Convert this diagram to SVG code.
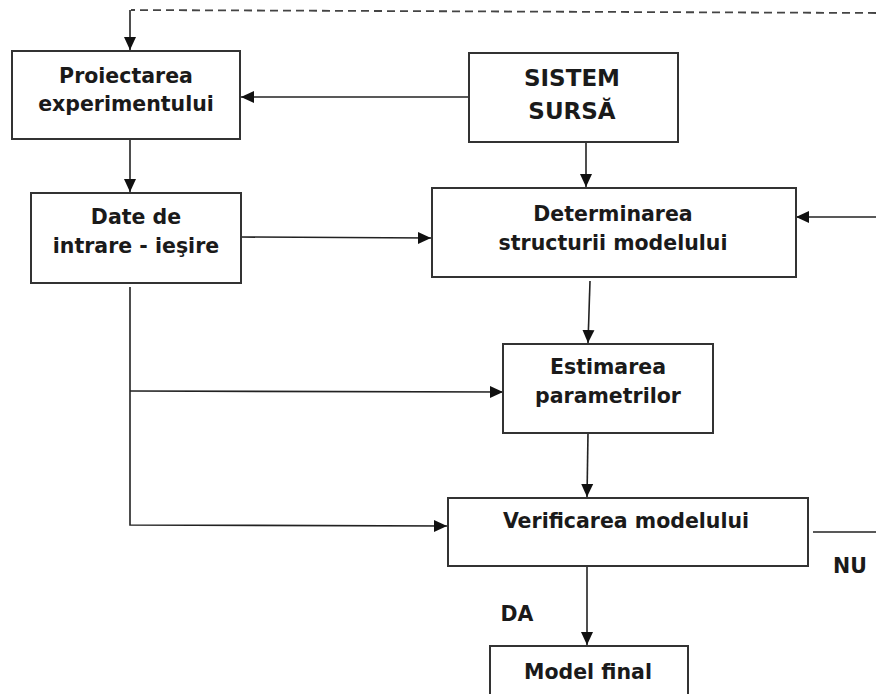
<svg xmlns="http://www.w3.org/2000/svg" width="876" height="694" viewBox="0 0 876 694">
<defs>
<marker id="arr" markerUnits="userSpaceOnUse" markerWidth="13" markerHeight="13" refX="13" refY="6.5" orient="auto">
<path d="M0,0.5 L13,6.5 L0,12.5 z" fill="#111"/>
</marker>
<style>
.box{fill:#fff;stroke:#333;stroke-width:2}
.t{font-family:"DejaVu Sans","Verdana",sans-serif;font-weight:bold;font-size:20.5px;fill:#1a1a1a;text-anchor:middle}
.big{font-size:23px}
.c{fill:none;stroke:#222;stroke-width:1.6}
.dash{fill:none;stroke:#444;stroke-width:1.8;stroke-dasharray:8 5}
</style>
</defs>
<rect width="876" height="694" fill="#fff"/>
<g id="connectors">
<path class="dash" d="M876,13 L131,10"/>
<path class="c" d="M130,10 L130,50" marker-end="url(#arr)"/>
<path class="c" d="M469,97 L241,97" marker-end="url(#arr)"/>
<path class="c" d="M130,139 L130,192" marker-end="url(#arr)"/>
<path class="c" d="M586,142 L586,187" marker-end="url(#arr)"/>
<path class="c" d="M241,237 L431,238" marker-end="url(#arr)"/>
<path class="c" d="M876,217 L796,217" marker-end="url(#arr)"/>
<path class="c" d="M590,281 L588,343" marker-end="url(#arr)"/>
<path class="c" d="M130,287 L130,525 L447,526" marker-end="url(#arr)"/>
<path class="c" d="M130,391 L503,392" marker-end="url(#arr)"/>
<path class="c" d="M588,433 L587,497" marker-end="url(#arr)"/>
<path class="c" d="M587,566 L587,645" marker-end="url(#arr)"/>
<path class="c" d="M813,532 L876,532"/>
</g>
<g id="proiectarea">
<rect class="box" x="12" y="51" width="228" height="88"/>
<text class="t" x="126" y="83">Proiectarea</text>
<text class="t" x="126" y="111">experimentului</text>
</g>
<g id="sistem">
<rect class="box" x="469" y="53" width="209" height="89"/>
<text class="t big" x="572" y="86">SISTEM</text>
<text class="t big" x="572" y="119">SURSĂ</text>
</g>
<g id="date">
<rect class="box" x="31" y="193" width="210" height="90"/>
<text class="t" x="136" y="224">Date de</text>
<text class="t" x="136" y="253">intrare - ieşire</text>
</g>
<g id="determinarea">
<rect class="box" x="432" y="188" width="364" height="89"/>
<text class="t" x="613" y="221">Determinarea</text>
<text class="t" x="613" y="250">structurii modelului</text>
</g>
<g id="estimarea">
<rect class="box" x="503" y="344" width="210" height="89"/>
<text class="t" x="608" y="374">Estimarea</text>
<text class="t" x="608" y="403">parametrilor</text>
</g>
<g id="verificarea">
<rect class="box" x="448" y="498" width="360" height="68"/>
<text class="t" x="626" y="528">Verificarea modelului</text>
</g>
<g id="model-final">
<rect class="box" x="490" y="646" width="198" height="60"/>
<text class="t" x="588" y="679">Model final</text>
</g>
<g id="labels">
<text class="t" x="517" y="621">DA</text>
<text class="t" x="850" y="573">NU</text>
</g>
</svg>
